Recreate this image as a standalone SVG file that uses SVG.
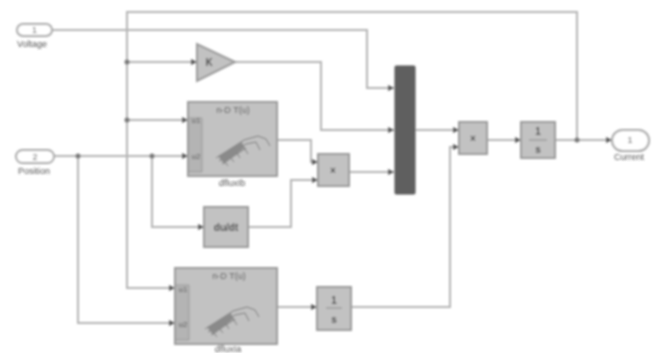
<svg xmlns="http://www.w3.org/2000/svg" width="662" height="353" viewBox="0 0 662 353">
<style>
.w{fill:none;stroke:#b4b4b4;stroke-width:2}
.b{fill:#c2c2c2;stroke:#9a9a9a;stroke-width:2}
.p{fill:#fff;stroke:#a6a6a6;stroke-width:2}
.t{font-family:"Liberation Sans",Arial,sans-serif;fill:#555;text-anchor:middle}
.s{font-size:9px}
.m{font-size:10px}
.d{font-weight:bold;fill:#444}
.j{fill:#777}
.i{fill:none;stroke:#777;stroke-width:1}
</style>
<defs>
<filter id="soft" x="-5%" y="-5%" width="110%" height="110%"><feGaussianBlur stdDeviation="0.8"/></filter>
<marker id="a" markerUnits="userSpaceOnUse" markerWidth="7" markerHeight="7" refX="6" refY="3.5" orient="auto"><path d="M0 0.5L6 3.5L0 6.5Z" fill="#555"/></marker>
<g id="ic"><path class="i" d="M0 24L28 6L42 2L50 5L54 12M3 27L30 10L40 8L44 16M6 30L30 14M4 22L12 32M10 18L18 28M18 14L24 24M26 10L32 20"/><path d="M2 22L26 8L28 14L8 30Z" fill="#8a8a8a"/></g>
</defs>
<rect width="662" height="353" fill="#fff"/>
<g filter="url(#soft)">
<g id="connectors">
<path class="w" d="M577 140V12H127V288H175" marker-end="url(#a)"/>
<path class="w" d="M52 30H367V88H394" marker-end="url(#a)"/>
<path class="w" d="M127 62H197" marker-end="url(#a)"/>
<path class="w" d="M235 62H321V130H394" marker-end="url(#a)"/>
<path class="w" d="M127 120H188" marker-end="url(#a)"/>
<path class="w" d="M55 156H188" marker-end="url(#a)"/>
<path class="w" d="M78 156V323H175" marker-end="url(#a)"/>
<path class="w" d="M152 156V227H204" marker-end="url(#a)"/>
<path class="w" d="M277 140H311V162H318" marker-end="url(#a)"/>
<path class="w" d="M248 227H291V180H318" marker-end="url(#a)"/>
<path class="w" d="M349 172H394" marker-end="url(#a)"/>
<path class="w" d="M277 307H317" marker-end="url(#a)"/>
<path class="w" d="M351 307H450V147H459" marker-end="url(#a)"/>
<path class="w" d="M415 130H459" marker-end="url(#a)"/>
<path class="w" d="M487 140H521" marker-end="url(#a)"/>
<path class="w" d="M555 140H612" marker-end="url(#a)"/>
<circle class="j" cx="127" cy="62" r="2.5"/>
<circle class="j" cx="127" cy="120" r="2.5"/>
<circle class="j" cx="78" cy="156" r="2.5"/>
<circle class="j" cx="152" cy="156" r="2.5"/>
<circle class="j" cx="577" cy="140" r="2.5"/>
</g>
<g id="voltage"><rect class="p" x="17" y="24" width="35" height="12" rx="6"/><text class="t s" x="34.500" y="33">1</text><text class="t s" x="32" y="47">Voltage</text></g>
<g id="position"><rect class="p" x="16" y="150" width="38" height="13" rx="6.500"/><text class="t s" x="35" y="160">2</text><text class="t s" x="34" y="174">Position</text></g>
<g id="gain"><path class="b" d="M197 44V81L235 62Z"/><text class="t m d" x="209" y="66">K</text></g>
<g id="table1"><rect class="b" x="188" y="102" width="89" height="74"/><path d="M189 118H202V172H189" fill="#b4b4b4" stroke="#999"/><text class="t s" x="233" y="113">n-D T(u)</text><text class="t" font-size="8" x="196" y="123">u1</text><text class="t" font-size="8" x="196" y="159">u2</text><use href="#ic" x="216" y="134"/><text class="t s" x="232" y="186">dfluxIb</text></g>
<g id="product"><rect class="b" x="318" y="154" width="31" height="32"/><text class="t m d" x="333" y="174">×</text></g>
<g id="dudt"><rect class="b" x="204" y="207" width="44" height="40"/><text class="t m d" x="226" y="231">du/dt</text></g>
<g id="table2"><rect class="b" x="175" y="268" width="102" height="76"/><path d="M176 285H189V340H176" fill="#b4b4b4" stroke="#999"/><text class="t s" x="229" y="279">n-D T(u)</text><text class="t" font-size="8" x="183" y="292">u1</text><text class="t" font-size="8" x="183" y="327">u2</text><use href="#ic" x="205" y="305"/><text class="t s" x="228" y="352">dfluxIa</text></g>
<g id="integrator1"><rect class="b" x="317" y="287" width="34" height="43"/><text class="t m d" x="334" y="304">1</text><path d="M326 308H342" stroke="#888"/><text class="t m d" x="334" y="323">s</text></g>
<g id="mux"><rect x="395" y="66" width="20" height="128" rx="1" fill="#5e5e5e" stroke="#555" stroke-width="1"/></g>
<g id="divide"><rect class="b" x="459" y="122" width="28" height="32"/><text class="t m d" x="473" y="142">×</text></g>
<g id="integrator2"><rect class="b" x="521" y="122" width="34" height="36"/><text class="t m d" x="538" y="135">1</text><path d="M529 140H547" stroke="#888"/><text class="t m d" x="538" y="153">s</text></g>
<g id="current"><rect class="p" x="612" y="130" width="37" height="21" rx="10.500"/><text class="t s" x="630" y="143">1</text><text class="t s" x="629" y="160">Current</text></g>
</g>
</svg>
